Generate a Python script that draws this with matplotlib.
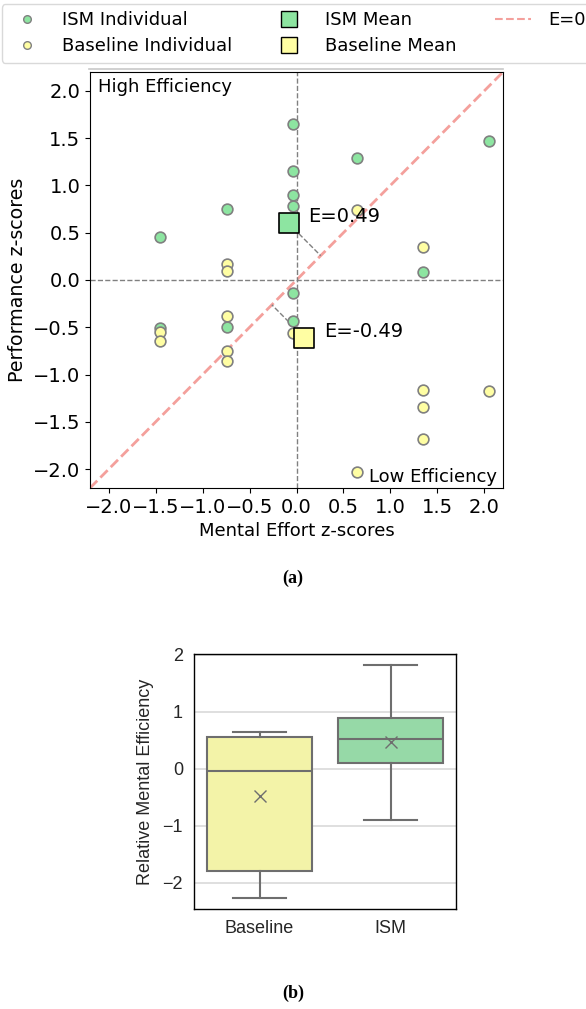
import matplotlib
matplotlib.use("Agg")
import matplotlib.pyplot as plt
from matplotlib.lines import Line2D

# --- data ---
ism_effort = [-0.04, 2.05, 0.64, -0.04, -0.04, -0.04, -0.74, -1.45, 1.35, -0.04, -0.04, -0.74, -1.45]
ism_perf = [1.65, 1.47, 1.29, 1.15, 0.90, 0.78, 0.75, 0.46, 0.08, -0.14, -0.43, -0.50, -0.51]
base_effort = [0.64, 1.35, -0.74, -0.74, -0.74, -1.45, -0.04, -1.45, -0.74, -0.74, 1.35, 2.05, 1.35, 1.35, 0.64]
base_perf = [0.74, 0.35, 0.17, 0.10, -0.38, -0.55, -0.56, -0.65, -0.75, -0.86, -1.16, -1.17, -1.34, -1.68, -2.03]
ism_mean = (-0.085, 0.60)
base_mean = (0.085, -0.61)
ism_e = 0.49
base_e = -0.49

groups = ["Baseline", "ISM"]
box_med = [-0.04, 0.52]
box_q1 = [-1.80, 0.10]
box_q3 = [0.56, 0.88]
box_lo = [-2.27, -0.90]
box_hi = [0.64, 1.81]
box_mean = [-0.49, 0.47]

green = "#8de5a1"
yellow = "#fffea3"
fs = 14

fig = plt.figure(figsize=(5.86, 10.09), dpi=100)

# --- (a) scatter ---
ax = fig.add_axes([90/586, 1-488/1009, 413/586, 416/1009])
ax.axhline(0, color="grey", ls="--", lw=1)
ax.axvline(0, color="grey", ls="--", lw=1)
ax.axline((0, 0), slope=1, color="#f4a09c", ls="--", lw=2, zorder=1)
ax.scatter(ism_effort, ism_perf, s=60, c=green, edgecolors="grey", linewidths=1.2, zorder=3)
ax.scatter(base_effort, base_perf, s=60, c=yellow, edgecolors="grey", linewidths=1.2, zorder=3)
for (mx, my), col, e in [(ism_mean, green, ism_e), (base_mean, yellow, base_e)]:
    f = (mx + my) / 2
    ax.plot([mx, f], [my, f], color="grey", ls="--", lw=1, zorder=2)
    ax.scatter([mx], [my], s=200, marker="s", c=col, edgecolors="black", linewidths=1.2, zorder=4)
    ax.text(mx + 0.21, my + 0.07, "E=%.2f" % e, fontsize=fs, va="center")
ax.text(0.02, 0.985, "High Efficiency", transform=ax.transAxes, fontsize=fs - 1, va="top", ha="left")
ax.text(0.985, 0.005, "Low Efficiency", transform=ax.transAxes, fontsize=fs - 1, va="bottom", ha="right")
ax.set_xlim(-2.2, 2.2)
ax.set_ylim(-2.2, 2.2)
ax.set_xticks([-2.0, -1.5, -1.0, -0.5, 0.0, 0.5, 1.0, 1.5, 2.0])
ax.set_yticks([-2.0, -1.5, -1.0, -0.5, 0.0, 0.5, 1.0, 1.5, 2.0])
ax.tick_params(labelsize=fs)
ax.set_xlabel("Mental Effort z-scores", fontsize=fs - 1)
ax.set_ylabel("Performance z-scores", fontsize=fs - 0.3)

handles = [
    Line2D([], [], ls="", marker="o", ms=5.5, mfc=green, mec="grey"),
    Line2D([], [], ls="", marker="o", ms=5.5, mfc=yellow, mec="grey"),
    Line2D([], [], ls="", marker="s", ms=12, mfc=green, mec="black"),
    Line2D([], [], ls="", marker="s", ms=12, mfc=yellow, mec="black"),
    Line2D([], [], color="#f4a09c", ls="--", lw=1.5),
]
labels = ["ISM Individual", "Baseline Individual", "ISM Mean", "Baseline Mean", "E=0"]
fig.legend(handles, labels, ncol=3, loc="upper left", bbox_to_anchor=(0.003, 0.996),
           fontsize=13, columnspacing=2.15, handletextpad=0.95, labelspacing=0.45,
           borderaxespad=0, frameon=True, edgecolor="#d0d0d0")
fig.add_artist(Line2D([89/586, 503/586], [1-68.5/1009, 1-68.5/1009], color="#c8c8c8", lw=1.2))

fig.text(0.5, 1-578/1009, "(a)", ha="center", va="center", fontsize=13,
         family="Liberation Serif", weight="bold")

# --- (b) box plot ---
bx = fig.add_axes([194/586, 1-909.3/1009, 262/586, 255.3/1009])
stats = []
for i, g in enumerate(groups):
    stats.append(dict(label=g, med=box_med[i], q1=box_q1[i], q3=box_q3[i],
                      whislo=box_lo[i], whishi=box_hi[i], mean=box_mean[i], fliers=[]))
lc = "#6e6e6e"
bp = bx.bxp(stats, positions=[0, 1], widths=0.8, patch_artist=True, showmeans=True,
            boxprops=dict(edgecolor=lc, linewidth=1.5),
            medianprops=dict(color=lc, linewidth=1.5),
            whiskerprops=dict(color=lc, linewidth=1.5),
            capprops=dict(color=lc, linewidth=1.5),
            meanprops=dict(marker="x", markeredgecolor=lc, markersize=8, markeredgewidth=1),
            capwidths=0.4, zorder=3)
for patch, col in zip(bp["boxes"], ["#f3f3a8", "#96d9a7"]):
    patch.set_facecolor(col)
bx.set_xlim(-0.5, 1.5)
bx.set_ylim(-2.47, 2.01)
bx.set_yticks([-2, -1, 0, 1, 2])
bx.set_yticklabels(["\u22122", "\u22121", "0", "1", "2"])
bx.yaxis.grid(True, color="#d9d9d9", lw=1.2, zorder=0)
bx.set_axisbelow(True)
bx.tick_params(length=0, labelsize=13, pad=8, labelcolor="#262626")
for lab in bx.get_xticklabels() + bx.get_yticklabels():
    lab.set_family("Liberation Sans")
bx.set_ylabel("Relative Mental Efficiency", fontsize=13, family="Liberation Sans",
              color="#262626", labelpad=6)
for sp in bx.spines.values():
    sp.set_color("black")
    sp.set_linewidth(1)

fig.text(0.5, 1-993/1009, "(b)", ha="center", va="center", fontsize=13,
         family="Liberation Serif", weight="bold")

fig.savefig("out.png", dpi=100)
